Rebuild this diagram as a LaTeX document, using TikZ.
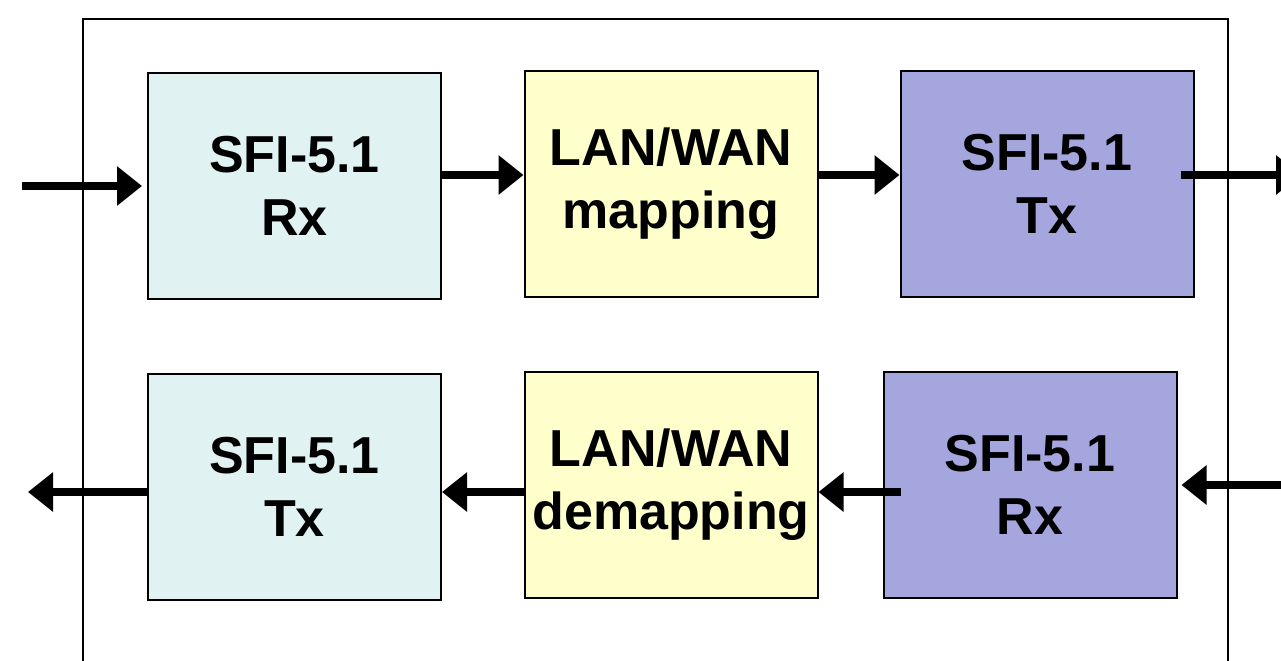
\documentclass[tikz,border=0pt]{standalone}
\usepackage{fontspec}
\setmainfont{Liberation Sans}
\usepackage{xcolor}
\usetikzlibrary{arrows.meta}

\definecolor{rxcyan}{HTML}{E1F2F3}
\definecolor{mapyellow}{HTML}{FFFFCC}
\definecolor{txlilac}{HTML}{A6A6DE}

\begin{document}
\begin{tikzpicture}[
    x=0.5pt, y=-0.5pt,
    blk/.style={draw, line width=1pt, rectangle, minimum width=146.5pt,
                minimum height=113pt, align=center,
                font=\fontsize{26}{31.5}\selectfont\bfseries},
    arr/.style={line width=4pt, -{Triangle[length=12.5pt,width=19pt]}},
]
\useasboundingbox (0,0) rectangle (1281,660);

% Outer frame
\draw[line width=1pt] (83,680) -- (83,19) -- (1228,19) -- (1228,680);

% Upper path
\node[blk, fill=rxcyan]    (rxa)   at (294.5,186)  {SFI-5.1\\Rx};
\node[blk, fill=mapyellow] (mapa)  at (671,183.5)  {LAN/WAN\\mapping};
\node[blk, fill=txlilac]   (txa)   at (1047,183.5) {SFI-5.1\\Tx};

% Lower path
\node[blk, fill=rxcyan]    (txb)   at (294.5,487)  {SFI-5.1\\Tx};
\node[blk, fill=mapyellow] (demapb) at (671,485)   {LAN/WAN\\demapping};
\node[blk, fill=txlilac]   (rxb)   at (1030,485)   {SFI-5.1\\Rx};

% Free ends
\coordinate (ina)  at (22,186);
\coordinate (outa) at (1301,175);
\coordinate (inb)  at (1300,485);
\coordinate (outb) at (28,492);

% Upper arrows
\draw[arr] (ina) -- ([xshift=-2.5pt]rxa.west);
\draw[arr] (rxa.east |- 0,175) -- (mapa.west |- 0,175);
\draw[arr] (mapa.east |- 0,175) -- (txa.west |- 0,175);
\draw[arr] ([xshift=-7pt]txa.east |- 0,175) -- (outa);

% Lower arrows
\draw[arr] (inb) -- ([xshift=2pt]rxb.east);
\draw[arr] ([xshift=9pt]rxb.west |- 0,492) -- (demapb.east |- 0,492);
\draw[arr] (demapb.west |- 0,492) -- (txb.east |- 0,492);
\draw[arr] (txb.west |- 0,492) -- (outb);

\end{tikzpicture}
\end{document}
